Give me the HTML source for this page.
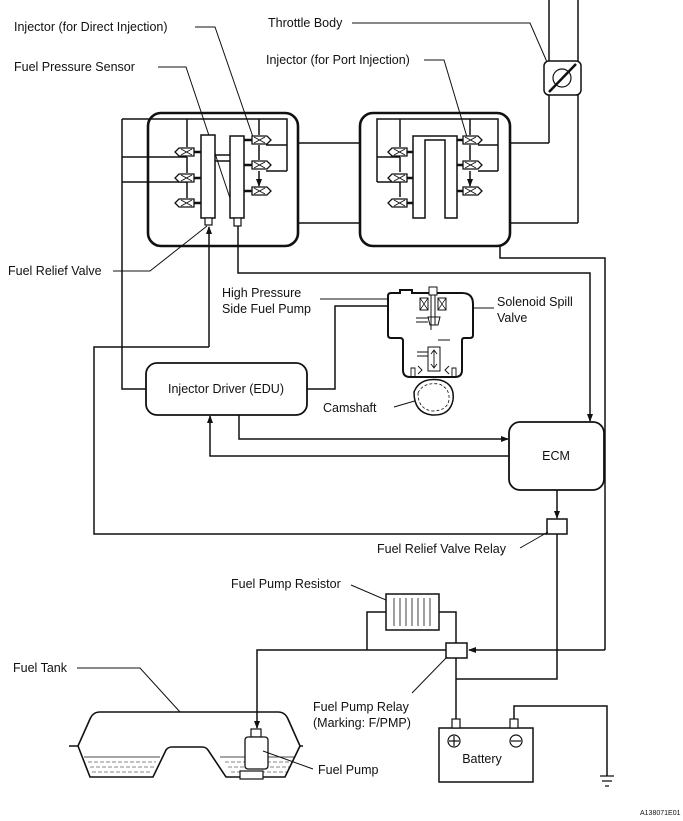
<!DOCTYPE html>
<html><head><meta charset="utf-8"><style>
html,body{margin:0;padding:0;background:#fff;}
svg{display:block;}
text{font-family:"Liberation Sans",Arial,sans-serif;font-size:12.5px;fill:#111;}
</style></head><body>
<svg width="683" height="821" viewBox="0 0 683 821" xmlns="http://www.w3.org/2000/svg">
<defs>
<marker id="a" markerWidth="8" markerHeight="8" refX="7" refY="4" orient="auto" markerUnits="userSpaceOnUse"><path d="M0,1 L8,4 L0,7 Z" fill="#111"/></marker>
<g id="injL"><path d="M-8,-4 H7 V4 H-8 L-12,0 Z" fill="#fff" stroke="#111" stroke-width="1.3"/><path d="M-6,-3 L5,3 M-6,3 L5,-3" stroke="#111" stroke-width="0.9"/></g>
<g id="injR"><path d="M8,-4 H-7 V4 H8 L12,0 Z" fill="#fff" stroke="#111" stroke-width="1.3"/><path d="M6,-3 L-5,3 M6,3 L-5,-3" stroke="#111" stroke-width="0.9"/></g>
</defs>
<g fill="none" stroke="#111" stroke-width="1.5">
<path d="M195,27 H215 L253,137" stroke-width="1"/>
<path d="M158,67 H186 L237,219" stroke-width="1"/>
<path d="M352,23 H530 L547,62" stroke-width="1"/>
<path d="M424,60 H444 L467,137" stroke-width="1"/>
<path d="M549,0 V143 M578,0 V223"/>
<rect x="544" y="61" width="37" height="34" rx="5" fill="#fff" stroke-width="1.5"/>
<circle cx="562" cy="78" r="9" stroke-width="1.2"/>
<path d="M549,92 L576,64" stroke-width="2.5"/>
<rect x="148" y="113" width="150" height="133" rx="13" stroke-width="2.6"/>
<rect x="360" y="113" width="150" height="133" rx="13" stroke-width="2.6"/>
<path d="M298,143 H360 M298,223 H360 M510,143 H549 M510,223 H578"/>
<!-- left box internals -->
<path d="M122,119 H287 V171 M287,145 H266 M287,171 H266 M122,157 H187 M122,182 H187"/>
<rect x="201" y="135" width="14" height="83" fill="#fff"/>
<rect x="205" y="218" width="7" height="7" fill="#fff" stroke-width="1.2"/>
<rect x="230" y="136" width="14" height="82" fill="#fff"/>
<rect x="234" y="218" width="7" height="8" fill="#fff" stroke-width="1.2"/>
<path d="M215,155 H230 M215,161 H230"/>
<path d="M187,119 V147 M187,157 V173 M187,182 V198 M259,119 V135 M259,145 V160 M259,171 V186" marker-end="url(#a)"/>
<path d="M194,152 H201 M194,178 H201 M194,203 H201 M252,140 H244 M252,165 H244 M252,191 H244" stroke-width="2.5"/>
<!-- right box internals -->
<path d="M498,145 V119 H377 V182 M498,119 V171 M498,145 H478 M498,171 H478 M377,157 H400 M377,182 H400"/>
<path d="M413,218 V136 H457 V218 H445 V140 H425 V218 Z" fill="#fff"/>
<path d="M400,119 V147 M400,157 V172 M400,182 V197 M470,119 V135 M470,145 V160 M470,171 V186" marker-end="url(#a)"/>
<path d="M407,152 H413 M407,178 H413 M407,203 H413 M463,140 H457 M463,165 H457 M463,191 H457" stroke-width="2.5"/>
<!-- wiring -->
<path d="M500,246 V258 H605 V650"/>
<path d="M238,226 V273 H590 V421" marker-end="url(#a)"/>
<path d="M209,347 V227" marker-end="url(#a)"/>
<path d="M209,347 H94 V534 H547"/>
<path d="M122,119 V389 H146"/>
<path d="M307,389 H335 V306 H419" marker-end="url(#a)"/>
<path d="M239,415 V439 H508" marker-end="url(#a)"/>
<path d="M509,456 H210 V416" marker-end="url(#a)"/>
<path d="M557,490 V518" marker-end="url(#a)"/>
<path d="M113,271 H150 L207,226" stroke-width="1"/>
<path d="M320,299 H390" stroke-width="1"/>
<path d="M494,308 H442" stroke-width="1"/>
<path d="M394,407 L418,400" stroke-width="1"/>
<rect x="146" y="363" width="161" height="52" rx="11" fill="#fff" stroke-width="1.8"/>
<rect x="509" y="422" width="95" height="68" rx="11" fill="#fff" stroke-width="1.8"/>
<!-- HP pump -->
<path d="M388,296 Q388,293 391,293 H400 V290 H412 V293 H462 Q473,293 473,304 V335 Q473,338 470,338 H464 Q462,338 462,341 V370 Q462,377 455,377 H410 Q403,377 403,370 V341 Q403,338 400,338 H391 Q388,338 388,335 Z" fill="#fff" stroke-width="2"/>
<rect x="429" y="287" width="8" height="8" fill="#fff" stroke-width="1"/>
<rect x="420" y="298" width="8" height="12" stroke-width="1"/><path d="M420,298 L428,310 M428,298 L420,310" stroke-width="0.7"/>
<rect x="438" y="298" width="8" height="12" stroke-width="1"/><path d="M438,298 L446,310 M446,298 L438,310" stroke-width="0.7"/>
<path d="M431,295 V330 M435,295 V325" stroke-width="1"/>
<path d="M428,317 H440 L438,325 H430 Z M416,318 H428 M416,322 H428 M438,340 H450" stroke-width="1"/>
<rect x="428" y="347" width="12" height="24" stroke-width="1"/>
<path d="M434,351 V367 M431,354 L434,350 L437,354 M431,364 L434,368 L437,364 M417,352 H428 M417,356 H428" stroke-width="0.9"/>
<path d="M411,377 V368 H415 V377 M452,377 V368 H456 V377 M418,366 L422,370 L418,374 M449,366 L445,370 L449,374" stroke-width="0.9"/>
<path d="M414,392 Q420,377 440,380 Q455,384 453,400 Q450,416 432,415 Q414,413 414,392 Z" fill="#fff" stroke-width="1.5"/>
<path d="M418,393 Q423,382 439,384 Q450,388 449,400 Q447,411 432,411 Q418,409 418,393 Z" stroke-width="0.8" stroke-dasharray="3,2"/>
<!-- relays lower -->
<rect x="547" y="519" width="20" height="15" fill="#fff"/>
<path d="M520,548 L548,532" stroke-width="1"/>
<path d="M557,534 V679 H456"/>
<path d="M605,650 H469" marker-end="url(#a)"/>
<rect x="446" y="643" width="21" height="15" fill="#fff"/>
<rect x="386" y="594" width="53" height="36" fill="#fff"/>
<path d="M394,598 V626 M400,598 V626 M406,598 V626 M412,598 V626 M418,598 V626 M424,598 V626 M430,598 V626" stroke-width="0.8"/>
<path d="M386,612 H367 V650 M439,612 H456 V643 M446,650 H257 V700"/>
<path d="M257,700 V728" marker-end="url(#a)"/>
<path d="M456,658 V719"/>
<path d="M351,585 L386,600 M412,693 L447,657" stroke-width="1"/>
<rect x="439" y="728" width="94" height="54" fill="#fff"/>
<rect x="452" y="719" width="8" height="9" fill="#fff" stroke-width="1.2"/>
<rect x="510" y="719" width="8" height="9" fill="#fff" stroke-width="1.2"/>
<circle cx="454" cy="741" r="6" stroke-width="1.2"/><path d="M449,741 H459 M454,736 V746" stroke-width="1.2"/>
<circle cx="516" cy="741" r="6" stroke-width="1.2"/><path d="M511,741 H521" stroke-width="1.2"/>
<path d="M514,719 V706 H607 V776"/>
<path d="M600,776 H614 M602,781 H612 M605,786 H609" stroke-width="1.2"/>
<!-- tank -->
<path d="M69,746 H78 L90,719 Q93,712 100,712 H278 Q285,712 288,719 L300,746 H303" stroke-width="1.6"/>
<path d="M78,746 L90,777 H153 L166,750 Q168,747 172,747 H202 Q206,747 208,750 L226,777 H285 L300,746" stroke-width="1.6"/>
<path d="M84,757 H160 M220,757 H295" stroke-width="0.8"/>
<path d="M88,762 H156 M90,767 H154 M92,772 H152 M225,762 H292 M228,767 H290 M231,772 H288" stroke-width="0.6" stroke-dasharray="4,2"/>
<rect x="251" y="729" width="10" height="8" fill="#fff" stroke-width="1.2"/>
<rect x="245" y="737" width="23" height="32" rx="3" fill="#fff" stroke-width="1.3"/>
<rect x="240" y="771" width="23" height="8" fill="#fff" stroke-width="1.2"/>
<path d="M77,668 H140 L180,712 M313,769 L263,751" stroke-width="1"/>
</g>
<!-- injectors -->
<use href="#injL" x="187" y="152"/><use href="#injL" x="187" y="178"/><use href="#injL" x="187" y="203"/>
<use href="#injR" x="259" y="140"/><use href="#injR" x="259" y="165"/><use href="#injR" x="259" y="191"/>
<use href="#injL" x="400" y="152"/><use href="#injL" x="400" y="178"/><use href="#injL" x="400" y="203"/>
<use href="#injR" x="470" y="140"/><use href="#injR" x="470" y="165"/><use href="#injR" x="470" y="191"/>
<text x="14" y="31">Injector (for Direct Injection)</text>
<text x="14" y="71">Fuel Pressure Sensor</text>
<text x="268" y="27">Throttle Body</text>
<text x="266" y="64">Injector (for Port Injection)</text>
<text x="8" y="275">Fuel Relief Valve</text>
<text x="222" y="297">High Pressure</text>
<text x="222" y="313">Side Fuel Pump</text>
<text x="497" y="306">Solenoid Spill</text>
<text x="497" y="322">Valve</text>
<text x="226" y="393" text-anchor="middle">Injector Driver (EDU)</text>
<text x="323" y="412">Camshaft</text>
<text x="556" y="460" text-anchor="middle">ECM</text>
<text x="377" y="553">Fuel Relief Valve Relay</text>
<text x="231" y="588">Fuel Pump Resistor</text>
<text x="13" y="672">Fuel Tank</text>
<text x="313" y="711">Fuel Pump Relay</text>
<text x="313" y="727">(Marking: F/PMP)</text>
<text x="482" y="763" text-anchor="middle">Battery</text>
<text x="318" y="774">Fuel Pump</text>
<text x="640" y="815" style="font-size:7px">A138071E01</text>
</svg>
</body></html>
